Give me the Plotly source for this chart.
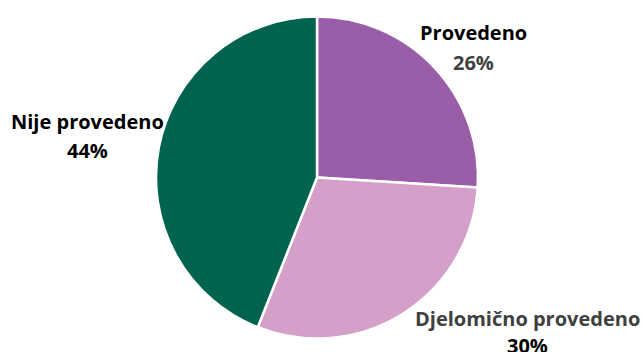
import plotly.graph_objects as go

categories = ["Provedeno", "Djelomično provedeno", "Nije provedeno"]
values = [26, 30, 44]
colors = ["#9A5EA8", "#D49FC8", "#00634F"]
name_colors = ["#000000", "#404040", "#000000"]
pct_colors = ["#404040", "#000000", "#000000"]
label_pos = [(473, 32, 62), (527, 318, 345), (87, 121, 150)]

W, H = 643, 352
cx, cy, r = 317, 177.5, 161

fig = go.Figure(go.Pie(
    labels=categories, values=values, sort=False, direction="clockwise",
    rotation=0, marker=dict(colors=colors, line=dict(color="white", width=2.5)),
    textinfo="none", hoverinfo="label+percent", showlegend=False,
    domain=dict(x=[(cx - r) / W, (cx + r) / W], y=[(H - cy - r) / H, (H - cy + r) / H]),
))

font_family = "Open Sans, sans-serif"
for cat, v, nc, pc, (x, y1, y2) in zip(categories, values, name_colors, pct_colors, label_pos):
    fig.add_annotation(x=x / W, y=1 - y1 / H, xref="paper", yref="paper", text=f"<b>{cat}</b>",
                       showarrow=False, font=dict(family=font_family, size=20, color=nc),
                       xanchor="center", yanchor="middle")
    fig.add_annotation(x=x / W, y=1 - y2 / H, xref="paper", yref="paper", text=f"<b>{v}%</b>",
                       showarrow=False, font=dict(family=font_family, size=20, color=pc),
                       xanchor="center", yanchor="middle")

fig.update_layout(width=W, height=H, margin=dict(l=0, r=0, t=0, b=0),
                  paper_bgcolor="white", plot_bgcolor="white")
fig.write_html("out.html", config={"displayModeBar": False},
               post_script="document.body.style.margin='0';")
